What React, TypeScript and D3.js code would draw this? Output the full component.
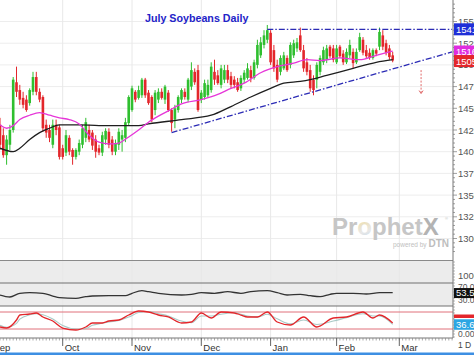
import React from 'react';
import * as d3 from 'd3';

const W = 474;
const H = 355;

const monthLabels = ['Sep', 'Oct', 'Nov', 'Dec', 'Jan', 'Feb', 'Mar'];
const monthStartIdx = [-2.6, 19, 40, 61, 82, 102, 121];

const opens = [1431,1419,1396,1408,1425,1480,1471,1462,1460,1456,1469,1486,1469,1463,1431,1425,1408,1431,1428,1404,1399,1416,1402,1394,1400,1408,1416,1425,1422,1414,1404,1399,1414,1423,1414,1400,1408,1414,1416,1433,1448,1469,1462,1465,1483,1468,1463,1448,1460,1469,1460,1468,1448,1437,1448,1460,1469,1460,1475,1492,1494,1460,1463,1465,1471,1492,1488,1477,1483,1494,1487,1483,1480,1473,1483,1485,1494,1485,1500,1511,1523,1529,1537,1517,1500,1492,1496,1508,1500,1511,1519,1534,1517,1503,1494,1483,1483,1492,1503,1506,1521,1519,1503,1521,1513,1503,1511,1515,1503,1517,1529,1517,1514,1508,1517,1521,1534,1525,1519,1511];
const highs = [1439,1427,1419,1431,1486,1498,1477,1469,1465,1473,1492,1492,1473,1465,1437,1431,1437,1437,1431,1408,1425,1419,1404,1404,1414,1431,1439,1431,1425,1419,1408,1423,1427,1427,1418,1414,1427,1425,1439,1465,1476,1471,1476,1485,1485,1471,1465,1471,1473,1473,1477,1471,1450,1454,1465,1473,1473,1485,1503,1496,1500,1471,1483,1483,1503,1506,1494,1500,1500,1500,1492,1487,1485,1488,1494,1502,1499,1506,1529,1532,1540,1546,1540,1523,1506,1511,1515,1511,1526,1529,1531,1543,1523,1508,1500,1488,1503,1511,1521,1523,1523,1523,1523,1523,1517,1519,1529,1519,1519,1537,1532,1523,1519,1519,1519,1543,1540,1529,1523,1515];
const lows = [1402,1393,1385,1402,1422,1463,1454,1450,1446,1453,1465,1465,1457,1423,1416,1411,1404,1419,1391,1391,1395,1396,1385,1391,1396,1404,1411,1411,1402,1393,1396,1395,1408,1404,1396,1396,1402,1400,1411,1430,1446,1457,1460,1462,1462,1454,1434,1442,1456,1460,1455,1446,1423,1427,1445,1456,1460,1457,1471,1477,1446,1456,1460,1462,1468,1477,1477,1473,1479,1479,1473,1473,1469,1470,1479,1483,1480,1483,1496,1508,1519,1525,1500,1492,1480,1488,1494,1492,1496,1508,1515,1515,1492,1488,1469,1465,1473,1488,1500,1502,1508,1503,1501,1508,1500,1501,1508,1496,1501,1515,1511,1508,1506,1506,1510,1517,1517,1511,1506,1503];
const closes = [1408,1396,1414,1425,1483,1469,1460,1454,1448,1471,1486,1469,1460,1427,1422,1416,1431,1425,1394,1394,1419,1400,1394,1402,1410,1427,1434,1414,1407,1400,1399,1419,1424,1408,1400,1410,1423,1419,1434,1463,1473,1460,1471,1483,1465,1456,1437,1468,1469,1462,1475,1448,1433,1450,1463,1471,1463,1483,1494,1480,1448,1468,1479,1477,1498,1483,1479,1496,1494,1483,1477,1477,1471,1485,1491,1496,1485,1503,1523,1526,1534,1540,1503,1496,1483,1508,1511,1494,1523,1525,1526,1517,1496,1492,1473,1471,1500,1508,1517,1519,1510,1506,1519,1510,1503,1515,1523,1502,1515,1532,1514,1510,1508,1517,1513,1538,1521,1514,1509,1505];

const maFastIdx = [0,2,4,6,9,12,15,18,21,24,27,30,33,36,39,42,45,48,51,55,61,66,70,74,79,84,89,93,97,103,109,114,118,119];
const maFastVal = [1431,1427,1430,1437,1442,1445,1442,1439,1437,1432,1419,1411,1409,1410,1417,1425,1434,1441,1447,1455,1460,1466,1473,1479,1491,1498,1502,1506,1505,1508,1506,1511,1515,1516];
const maSlowIdx = [0,4,6,9,12,15,18,24,30,36,42,45,55,64,70,76,82,86,91,94,99,107,114,119];
const maSlowVal = [1404,1400,1404,1414,1422,1427,1431,1431,1430,1430,1430,1432,1437,1442,1452,1463,1473,1479,1481,1483,1488,1496,1503,1506];

const rsiIdx = [0,3,6,9,13,16,18,23,26,28,33,38,40,43,45,48,55,58,61,65,69,73,76,81,84,87,91,94,97,100,102,107,111,115,119];
const rsiVal = [46.3,40.4,51.3,53.1,51.3,43.3,38.3,36.5,41.3,43.3,44.2,44.2,51.3,59.0,56.1,51.3,46.3,48.4,53.1,51.3,56.1,51.3,56.1,59.0,53.1,46.3,48.4,44.2,41.3,48.4,51.3,51.3,49.3,53.1,53.55];

const stochIdx = [0,2,5,6,9,11,13,16,19,23,26,28,31,33,36,39,42,45,48,51,55,58,61,64,67,71,73,75,78,81,84,88,92,96,101,105,110,113,115,119];
const stochK = [27.1,23.5,51.8,69.4,72.9,76.5,62.4,48.2,23.5,16.5,27.1,41.2,41.2,48.2,51.8,69.4,83.5,80,69.4,62.4,41.2,44.7,76.5,58.8,80,76.5,69.4,62.4,62.4,80,44.7,34.1,62.4,27.1,58.8,62.4,80,58.8,69.4,41.2];
const stochD = [33,26,40,55,70,74,70,55,32,20,22,33,40,45,50,62,78,82,74,66,48,42,66,66,72,78,72,66,62,72,56,38,52,36,48,60,74,66,66,36.67];

const priceTicks = [1300, 1325, 1350, 1375, 1400, 1425, 1450, 1475, 1500, 1525, 1550];
const resistance = { from: 81, to: 137, price: 1541 };
const support = { fromIdx: 52, fromPrice: 1422, toIdx: 137, toPrice: 1515 };
const arrow = { idx: 127.6, from: 1494, to: 1467 };

const lastPrice = 1505;
const lastMaFast = 1516;
const lastRsi = 53.55;
const lastStochD = 36.67;

const AX = 453;

export default function App() {
  const x = d3.scaleLinear().domain([0, 121]).range([0, 399.3]);
  const y = d3.scaleLinear().domain([1300, 1550]).range([238.5, 21.5]);
  const yRsi = d3.scaleLinear().domain([30, 70]).range([300.5, 287]);
  const ySt = d3.scaleLinear().domain([20, 80]).range([329, 312]);

  const lineP = d3.line<[number, number]>().x(d => x(d[0])).y(d => y(d[1])).curve(d3.curveMonotoneX);
  const lineR = d3.line<[number, number]>().x(d => x(d[0])).y(d => yRsi(d[1])).curve(d3.curveMonotoneX);
  const lineS = d3.line<[number, number]>().x(d => x(d[0])).y(d => ySt(d[1])).curve(d3.curveMonotoneX);

  const fast = maFastIdx.map((d, i) => [d, maFastVal[i]] as [number, number]);
  const slow = maSlowIdx.map((d, i) => [d, maSlowVal[i]] as [number, number]);
  const rsi = rsiIdx.map((d, i) => [d, rsiVal[i]] as [number, number]);
  const sk = stochIdx.map((d, i) => [d, stochK[i]] as [number, number]);
  const sd = stochIdx.map((d, i) => [d, stochD[i]] as [number, number]);

  const minor = d3.range(1285, 1576, 5).filter(v => y(v) >= 0 && y(v) <= 259);
  const dayTicks = d3.range(-4, 138);

  const font = 'Liberation Sans, Arial, sans-serif';

  return (
    <svg width={W} height={H} style={{ position: 'absolute', left: 0, top: 0, background: '#fff' }} fontFamily={font}>
      <defs>
        <clipPath id="plot"><rect x={0} y={0} width={AX} height={260} /></clipPath>
        <linearGradient id="og" x1="0" y1="0" x2="1" y2="1">
          <stop offset="0" stopColor="#f3d26b" />
          <stop offset="0.5" stopColor="#e8e8e8" />
          <stop offset="1" stopColor="#7fb8e6" />
        </linearGradient>
      </defs>
      <rect x={0} y={261} width={AX} height={45} fill="#ececec" />
      <rect x={0} y={306} width={AX} height={32} fill="#fff" />
      {priceTicks.map(v => (
        <line key={'g' + v} x1={0} x2={AX} y1={y(v)} y2={y(v)} stroke="#ededed" strokeWidth={1} />
      ))}
      {monthStartIdx.map((m, i) => (
        <line key={'vg' + i} x1={x(m)} x2={x(m)} y1={0} y2={338} stroke="#e8e8e8" strokeWidth={1} />
      ))}
      <text x={332} y={235} fontSize={24} fontWeight="bold" fill="#c6c6c6" fontFamily={font}>
        Pr<tspan fill="url(#og)">o</tspan>phet<tspan fill="#b3b3b3">X</tspan>
      </text>
      <text x={445} y={220} fontSize={4} fill="#bbb">®</text>
      <text x={393} y={247} fontSize={6.5} fill="#c0c0c0">powered by <tspan fontSize={10} fontWeight="bold" fill="#bdbdbd">DTN</tspan></text>

      <g clipPath="url(#plot)">
        {closes.map((c, i) => {
          const up = c >= opens[i];
          const col = up ? '#2fbf2f' : '#e3262b';
          const cx = x(i);
          const top = y(Math.max(c, opens[i]));
          const bot = y(Math.min(c, opens[i]));
          return (
            <g key={'c' + i}>
              <line x1={cx} x2={cx} y1={y(highs[i])} y2={y(lows[i])} stroke={col} strokeWidth={1} />
              <rect x={cx - 1.3} y={top} width={2.6} height={Math.max(1, bot - top)} fill={col} />
            </g>
          );
        })}
        <path d={lineP(slow) || ''} fill="none" stroke="#1e1e1e" strokeWidth={1.3} />
        <path d={lineP(fast) || ''} fill="none" stroke="#e636d8" strokeWidth={1.3} />
        <line x1={x(resistance.from)} x2={x(resistance.to)} y1={y(resistance.price)} y2={y(resistance.price)} stroke="#2b2bb5" strokeWidth={1.3} strokeDasharray="6,2,1.5,2" />
        <line x1={x(support.fromIdx)} x2={x(support.toIdx)} y1={y(support.fromPrice)} y2={y(support.toPrice)} stroke="#2b2bb5" strokeWidth={1.3} strokeDasharray="6,2,1.5,2" />
        <line x1={x(arrow.idx)} x2={x(arrow.idx)} y1={y(arrow.from)} y2={y(arrow.to)} stroke="#e06a6a" strokeWidth={1} strokeDasharray="2,1.5" />
        <path d={`M${x(arrow.idx) - 2},${y(arrow.to) - 3} L${x(arrow.idx)},${y(arrow.to)} L${x(arrow.idx) + 2},${y(arrow.to) - 3}`} fill="none" stroke="#e06a6a" strokeWidth={1} />
      </g>

      <text x={145} y={22} fontSize={10.7} fontWeight="bold" fill="#2323c8">July Soybeans Daily</text>

      <line x1={0} x2={AX} y1={260.5} y2={260.5} stroke="#8a8a8a" strokeWidth={1.2} />
      <line x1={0} x2={AX} y1={283} y2={283} stroke="#707070" strokeWidth={1.2} />
      <line x1={0} x2={AX} y1={306} y2={306} stroke="#707070" strokeWidth={1.2} />
      <path d={lineR(rsi) || ''} fill="none" stroke="#333" strokeWidth={1.3} />
      <line x1={0} x2={AX} y1={ySt(80)} y2={ySt(80)} stroke="#e0707a" strokeWidth={1} />
      <line x1={0} x2={AX} y1={ySt(20)} y2={ySt(20)} stroke="#e0707a" strokeWidth={1} />
      <path d={lineS(sd) || ''} fill="none" stroke="#a9c9c6" strokeWidth={1.1} />
      <path d={lineS(sk) || ''} fill="none" stroke="#e3262b" strokeWidth={1.3} />

      <line x1={0} x2={AX} y1={338} y2={338} stroke="#777" strokeWidth={1} />
      {dayTicks.map(d => (
        <line key={'dt' + d} x1={x(d)} x2={x(d)} y1={338} y2={340.5} stroke="#888" strokeWidth={0.7} />
      ))}
      {monthStartIdx.map((m, i) => (
        <g key={'mt' + i}>
          <line x1={x(m)} x2={x(m)} y1={338} y2={346} stroke="#666" strokeWidth={1} />
          <text x={x(m) + 2} y={351} fontSize={9.5} fill="#333">{monthLabels[i]}</text>
        </g>
      ))}
      <rect x={0} y={352.5} width={W} height={3} fill="#3d8fe3" />

      <line x1={AX} x2={AX} y1={0} y2={338} stroke="#777" strokeWidth={1} />
      {minor.map(v => (
        <line key={'mn' + v} x1={AX} x2={AX + (v % 25 === 0 ? 4 : 2)} y1={y(v)} y2={y(v)} stroke="#777" strokeWidth={0.7} />
      ))}
      {d3.range(262, 338, 3).map(v => (
        <line key={'lt' + v} x1={AX} x2={AX + 2} y1={v} y2={v} stroke="#888" strokeWidth={0.6} />
      ))}
      {priceTicks.map(v => (
        <text key={'pl' + v} x={AX + 5} y={y(v) + 3.5} fontSize={9.5} fill="#555">{v}</text>
      ))}
      <text x={AX + 5} y={279} fontSize={9.5} fill="#555">1000</text>
      <text x={AX + 5} y={290} fontSize={8.5} fill="#555">70.0</text>
      <text x={AX + 5} y={302.5} fontSize={8.5} fill="#555">30.0</text>
      <text x={AX + 5} y={337} fontSize={8.5} fill="#555">0.00</text>

      <rect x={AX + 1} y={y(resistance.price) - 6} width={21} height={12} fill="#1f2fd8" />
      <text x={AX + 3} y={y(resistance.price) + 3.5} fontSize={9.5} fill="#fff">{resistance.price}</text>
      <rect x={AX + 1} y={y(lastMaFast) - 5.5} width={21} height={11} fill="#e02ce0" />
      <text x={AX + 3} y={y(lastMaFast) + 3.5} fontSize={9.5} fill="#fff">{lastMaFast}</text>
      <rect x={AX + 1} y={y(lastPrice) - 5.5} width={21} height={12} fill="#e3262b" />
      <text x={AX + 3} y={y(lastPrice) + 4} fontSize={9.5} fill="#fff">{lastPrice}</text>
      <rect x={AX + 1} y={yRsi(lastRsi) - 4.5} width={21} height={10} fill="#111" />
      <text x={AX + 3} y={yRsi(lastRsi) + 3.5} fontSize={9.5} fill="#fff">{lastRsi}</text>
      <rect x={AX + 1} y={314.5} width={21} height={3.5} fill="#e3262b" />
      <rect x={AX + 1} y={ySt(lastStochD) - 5} width={21} height={10.5} fill="#2ba6e3" />
      <text x={AX + 3} y={ySt(lastStochD) + 3.5} fontSize={9.5} fill="#fff">{lastStochD}</text>
      <text x={AX + 5} y={348} fontSize={8.5} fill="#444">1 D</text>
    </svg>
  );
}
